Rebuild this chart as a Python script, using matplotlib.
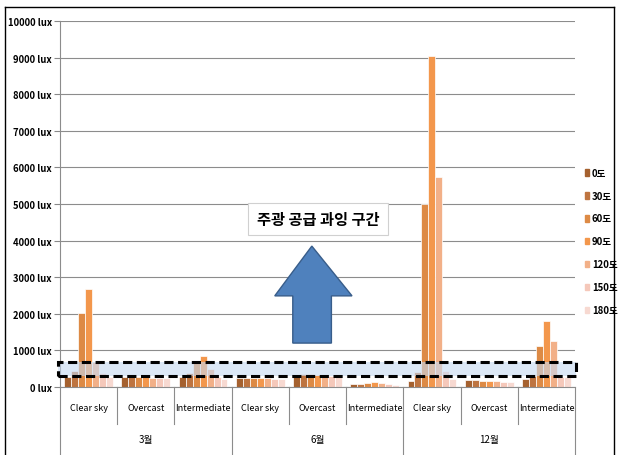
import numpy as np
import matplotlib
matplotlib.use('Agg')
import matplotlib.pyplot as plt
from matplotlib.patches import Rectangle, Polygon
from matplotlib.lines import Line2D
import matplotlib.transforms as mtransforms

plt.rcParams['font.family'] = ['Noto Sans CJK KR', 'DejaVu Sans']

months = ['3월', '6월', '12월']
skies = ['Clear sky', 'Overcast', 'Intermediate']
angles = ['0도', '30도', '60도', '90도', '120도', '150도', '180도']

# lux per angle, groups: 3월 clear/overcast/inter, 6월 ..., 12월 ...
v0 = [270, 260, 280, 250, 330, 70, 170, 180, 220]
v30 = [440, 260, 380, 250, 350, 80, 400, 180, 300]
v60 = [2030, 260, 700, 250, 350, 110, 5000, 160, 1120]
v90 = [2690, 260, 850, 250, 340, 130, 9050, 170, 1800]
v120 = [680, 250, 480, 240, 320, 110, 5740, 170, 1250]
v150 = [380, 240, 280, 230, 300, 80, 430, 150, 270]
v180 = [270, 240, 230, 220, 280, 60, 220, 140, 260]
series = [v0, v30, v60, v90, v120, v150, v180]

colors = ['#A5612F', '#BE7440', '#DD8A45', '#F3974C', '#F2B088', '#F5C8BA', '#F7D9D1']

fig = plt.figure(figsize=(6.21, 4.56), dpi=100)
ax = fig.add_axes([60/621, 1-388/456, 515/621, 366/456])

x = np.arange(9)
w = 0.122
for j, vals in enumerate(series):
    ax.bar(x + (j-3)*w, vals, w, color=colors[j], edgecolor='white', linewidth=0.5,
           label=angles[j], zorder=2)

ax.set_xlim(-0.5, 8.5)
ax.set_ylim(0, 10000)
ax.set_yticks(np.arange(0, 10001, 1000))
ax.set_yticklabels([f'{v} lux' for v in range(0, 10001, 1000)], fontsize=6.8, fontweight='bold')
ax.tick_params(axis='y', length=4, color='#888888', pad=2)
ax.set_xticks([])
ax.grid(axis='y', color='#8C8C8C', linewidth=0.8, zorder=0)
for s in ['top', 'right']:
    ax.spines[s].set_visible(False)
ax.spines['left'].set_color('#8C8C8C')
ax.spines['bottom'].set_color('#8C8C8C')

# two level category axis
trans = mtransforms.blended_transform_factory(ax.transData, ax.transAxes)
for i in range(9):
    ax.text(i, -0.055, skies[i % 3], transform=trans, ha='center', va='center',
            fontsize=6.5)
for k, m in enumerate(months):
    ax.text(3*k + 1, -0.142, m, transform=trans, ha='center', va='center',
            fontsize=7)
for b in [0.5, 1.5, 3.5, 4.5, 6.5, 7.5]:
    ax.plot([b, b], [0, -0.10], transform=trans, color='#8C8C8C', lw=0.8, clip_on=False)
for b in [-0.5, 2.5, 5.5, 8.5]:
    ax.plot([b, b], [0, -0.25], transform=trans, color='#8C8C8C', lw=0.8, clip_on=False)

# dashed highlight band
band = Rectangle((-0.53, 300), 9.05, 380, facecolor='#C6D9F1', alpha=0.6,
                 edgecolor='none', zorder=3, clip_on=False)
ax.add_patch(band)
ax.add_patch(Rectangle((-0.53, 300), 9.05, 380, facecolor='none', edgecolor='black',
                       linestyle=(0, (3, 1.5)), linewidth=2.2, zorder=4, clip_on=False))

# arrow
arrow = Polygon([(0.452, 0.120), (0.452, 0.249), (0.417, 0.249), (0.489, 0.385),
                 (0.567, 0.249), (0.527, 0.249), (0.527, 0.120)],
                closed=True, transform=ax.transAxes, facecolor='#4F81BD',
                edgecolor='#385D8A', linewidth=1, zorder=5)
ax.add_patch(arrow)
ax.text(0.501, 0.459, '주광 공급 과잉 구간', transform=ax.transAxes, ha='center', va='center',
        fontsize=11, fontweight='bold', zorder=6,
        bbox=dict(boxstyle='square,pad=0.55', facecolor='white', edgecolor='#D0D0D0', linewidth=0.8))

handles = [Rectangle((0, 0), 1, 1, color=c) for c in colors]
leg = fig.legend(handles, angles, loc='upper left', bbox_to_anchor=(576/621, 1-160/456),
                 frameon=False, handlelength=0.45, handleheight=0.7, handletextpad=0.3,
                 labelspacing=1.35, prop={'size': 6.9, 'weight': 'bold'})

# outer frame
fig.add_artist(Line2D([5/621, 5/621], [-0.05, 1-8/456], transform=fig.transFigure, color='black', lw=1))
fig.add_artist(Line2D([5/621, 614/621], [1-8/456, 1-8/456], transform=fig.transFigure, color='black', lw=1))
fig.add_artist(Line2D([614/621, 614/621], [-0.05, 1-8/456], transform=fig.transFigure, color='black', lw=1))

fig.savefig('out.png', dpi=100)
